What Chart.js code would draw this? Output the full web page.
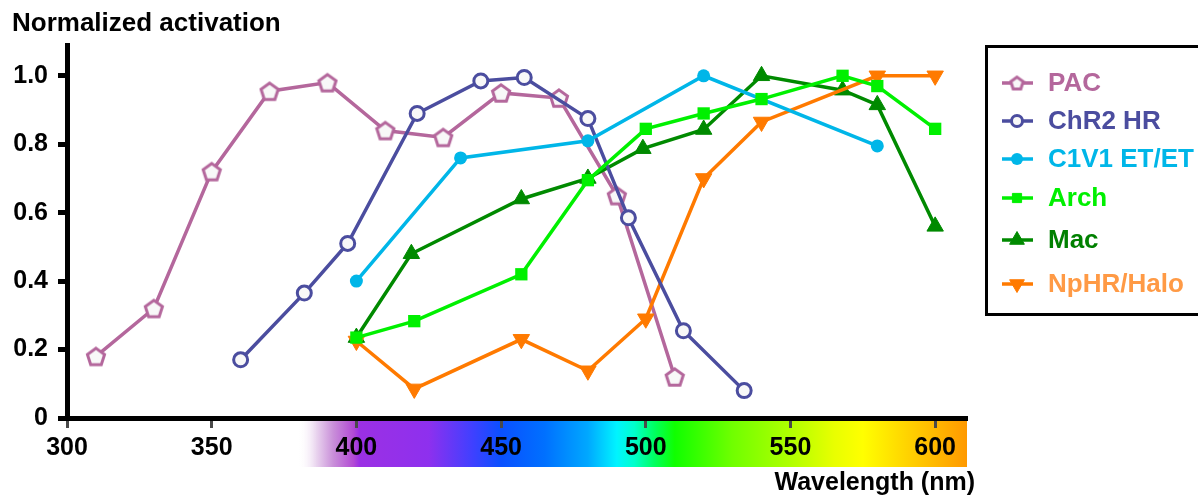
<!DOCTYPE html>
<html><head><meta charset="utf-8">
<style>html,body{margin:0;padding:0;background:#fff;overflow:hidden}</style>
<script src="https://cdn.jsdelivr.net/npm/chart.js@4/dist/chart.umd.min.js"></script>
</head><body>
<canvas id="c" width="1198" height="497" style="display:block;width:1198px;height:497px"></canvas>
<script>
// ---------- data ----------
const seriesNames = ['PAC', 'ChR2 HR', 'C1V1 ET/ET', 'Arch', 'Mac', 'NpHR/Halo'];
const pacWl   = [310, 330, 350, 370, 390, 410, 430, 450, 470, 490, 510];
const pacAct  = [0.18, 0.32, 0.72, 0.955, 0.98, 0.84, 0.82, 0.95, 0.935, 0.65, 0.12];
const chr2Wl  = [360, 382, 397, 421, 443, 458, 480, 494, 513, 534];
const chr2Act = [0.17, 0.365, 0.51, 0.89, 0.985, 0.995, 0.875, 0.585, 0.255, 0.08];
const c1v1Wl  = [400, 436, 480, 520, 580];
const c1v1Act = [0.40, 0.76, 0.81, 1.0, 0.795];
const archWl  = [400, 420, 457, 480, 500, 520, 540, 568, 580, 600];
const archAct = [0.235, 0.283, 0.42, 0.695, 0.845, 0.89, 0.932, 1.0, 0.97, 0.845];
const macWl   = [400, 419, 457, 480, 499, 520, 540, 568, 580, 600];
const macAct  = [0.235, 0.48, 0.64, 0.70, 0.787, 0.843, 1.0, 0.958, 0.915, 0.56];
const nphrWl  = [400, 420, 457, 480, 500, 520, 540, 580, 600];
const nphrAct = [0.225, 0.085, 0.23, 0.138, 0.29, 0.70, 0.865, 1.0, 1.0];
const xTickValues = [300, 350, 400, 450, 500, 550, 600];
const yTickValues = [0, 0.2, 0.4, 0.6, 0.8, 1.0];
const yTickLabels = ['0', '0.2', '0.4', '0.6', '0.8', '1.0'];
const xTitle = 'Wavelength (nm)';
const yTitle = 'Normalized activation';

// ---------- styles ----------
const FONT = "'Liberation Sans', Arial, sans-serif";
const COL = {
  pac: '#b4679c', chr2: '#4b4d9f', c1v1: '#00b6e8', arch: '#00f000', mac: '#008a00', nphr: '#ff7a00'
};
const LEGEND_TEXT = ['#b4679c', '#4b4d9f', '#00b6e8', '#00f000', '#008000', '#ff9a45'];
const SPECTRUM = [
  [380, 'rgba(255,255,255,0)'], [386, '#ead6ef'], [392, '#c98fd9'], [399, '#b24ad4'], [401, '#9b30e4'],
  [425, '#8e30ee'], [440, '#4040ff'], [450, '#0a50ff'], [465, '#0070ff'], [480, '#00a8ff'],
  [490, '#00f4ff'], [496, '#00ffcc'], [503, '#00ff60'], [510, '#10ff00'], [530, '#70ff00'],
  [550, '#b0ff00'], [565, '#e8ff00'], [575, '#ffff00'], [590, '#ffd400'], [605, '#ffaa00'], [611, '#ff9900']
];

function pentagon(size, stroke, lw) {
  const c = document.createElement('canvas');
  c.width = c.height = size;
  const g = c.getContext('2d');
  const r = size / 2 - lw / 2 - 0.5;
  const cx = size / 2, cy = size / 2 + r * 0.1;
  g.beginPath();
  for (let i = 0; i < 5; i++) {
    const a = -Math.PI / 2 + i * 2 * Math.PI / 5;
    const px = cx + r * Math.cos(a), py = cy + r * Math.sin(a);
    i ? g.lineTo(px, py) : g.moveTo(px, py);
  }
  g.closePath();
  g.fillStyle = '#f8f8f8'; g.fill();
  g.lineWidth = lw; g.strokeStyle = stroke; g.lineJoin = 'miter'; g.stroke();
  return c;
}
const pentBig = pentagon(22, COL.pac, 3);
const pentSmall = pentagon(17, COL.pac, 3);

function pts(xs, ys) { return xs.map((x, i) => ({ x: x, y: ys[i] })); }

const datasets = [
  { label: seriesNames[0], data: pts(pacWl, pacAct), borderColor: COL.pac, backgroundColor: COL.pac,
    pointStyle: pentBig, pointRadius: 10, order: 6, legendStyle: { pointStyle: pentSmall, radius: 8 } },
  { label: seriesNames[1], data: pts(chr2Wl, chr2Act), borderColor: COL.chr2, backgroundColor: '#f8f8f8',
    pointStyle: 'circle', pointRadius: 7, pointBorderWidth: 3, order: 3, legendStyle: { pointStyle: 'circle', radius: 5.5, fill: '#f8f8f8', borderWidth: 3 } },
  { label: seriesNames[2], data: pts(c1v1Wl, c1v1Act), borderColor: COL.c1v1, backgroundColor: COL.c1v1,
    pointStyle: 'circle', pointRadius: 6.5, pointBorderWidth: 0, order: 2, legendStyle: { pointStyle: 'circle', radius: 6 } },
  { label: seriesNames[3], data: pts(archWl, archAct), borderColor: COL.arch, backgroundColor: COL.arch,
    pointStyle: 'rect', pointRadius: 8.7, pointBorderWidth: 0, order: 1, legendStyle: { pointStyle: 'rect', radius: 6.5 } },
  { label: seriesNames[4], data: pts(macWl, macAct), borderColor: COL.mac, backgroundColor: COL.mac,
    pointStyle: 'triangle', pointRadius: 9.5, pointBorderWidth: 1, order: 5, legendStyle: { pointStyle: 'triangle', radius: 8.5 } },
  { label: seriesNames[5], data: pts(nphrWl, nphrAct), borderColor: COL.nphr, backgroundColor: COL.nphr,
    pointStyle: 'triangle', pointRotation: 180, pointRadius: 9.5, pointBorderWidth: 1, order: 4, legendStyle: { pointStyle: 'triangle', rotation: 180, radius: 8.5 } }
];
datasets.forEach(d => { d.borderWidth = 3.5; d.tension = 0; d.fill = false; d.pointHoverRadius = d.pointRadius; });

const decor = {
  id: 'decor',
  beforeDraw(chart) {
    const ctx = chart.ctx, xs = chart.scales.x, ca = chart.chartArea;
    const x0 = xs.getPixelForValue(SPECTRUM[0][0]);
    const x1 = xs.getPixelForValue(SPECTRUM[SPECTRUM.length - 1][0]);
    const grad = ctx.createLinearGradient(x0, 0, x1, 0);
    SPECTRUM.forEach(s => grad.addColorStop((xs.getPixelForValue(s[0]) - x0) / (x1 - x0), s[1]));
    ctx.save();
    ctx.fillStyle = grad;
    ctx.fillRect(x0, ca.bottom + 3, x1 - x0, 46);
    ctx.restore();
  },
  afterDraw(chart) {
    const ctx = chart.ctx, ca = chart.chartArea;
    ctx.save();
    ctx.fillStyle = '#000';
    ctx.font = 'bold 26px ' + FONT;
    ctx.textBaseline = 'middle';
    ctx.textAlign = 'left';
    ctx.fillText(yTitle, 12, 24);
    ctx.font = 'bold 25px ' + FONT;
    ctx.textAlign = 'right';
    ctx.fillText(xTitle, ca.right + 8, 483);
    // legend box
    ctx.lineWidth = 3;
    ctx.strokeStyle = '#000';
    ctx.strokeRect(986.5, 46.5, 320, 268);
    const rows = [83, 121, 159, 198, 240, 284];
    chart.data.datasets.forEach((d, i) => {
      const y = rows[i];
      ctx.strokeStyle = d.borderColor;
      ctx.lineWidth = 3.5;
      ctx.beginPath(); ctx.moveTo(1002, y); ctx.lineTo(1033, y); ctx.stroke();
      const ls = d.legendStyle;
      ctx.fillStyle = ls.fill || d.borderColor;
      ctx.strokeStyle = d.borderColor;
      ctx.lineWidth = ls.borderWidth || 1;
      Chart.helpers.drawPoint(ctx, { pointStyle: ls.pointStyle, rotation: ls.rotation || 0, radius: ls.radius, borderWidth: ls.borderWidth || (typeof ls.pointStyle === 'string' && ls.pointStyle !== 'circle' ? 1 : 0) }, 1017, y);
      ctx.fillStyle = LEGEND_TEXT[i];
      ctx.font = 'bold 26px ' + FONT;
      ctx.textAlign = 'left';
      ctx.textBaseline = 'middle';
      ctx.fillText(d.label, 1048, y + 1);
    });
    ctx.restore();
  }
};

new Chart(document.getElementById('c'), {
  type: 'line',
  data: { datasets: datasets },
  options: {
    responsive: false,
    devicePixelRatio: 1,
    animation: false,
    layout: { padding: { top: 45, right: 231, bottom: 0, left: 0 } },
    plugins: { legend: { display: false }, tooltip: { enabled: false } },
    scales: {
      x: {
        type: 'linear', position: 'bottom', min: 300, max: 611,
        afterFit(s) { s.height = 79; },
        afterBuildTicks(s) { s.ticks = xTickValues.map(v => ({ value: v })); },
        border: { display: true, color: '#000', width: 5 },
        grid: { display: true, drawOnChartArea: false, drawTicks: true, tickLength: 10, tickWidth: 3, tickColor: '#4a4a4a' },
        ticks: { color: '#000', font: { family: FONT, size: 25, weight: 'bold' }, padding: 5, maxRotation: 0, autoSkip: false, includeBounds: false }
      },
      y: {
        type: 'linear', position: 'left', min: 0, max: 1.09,
        afterFit(s) { s.width = 67; },
        afterBuildTicks(s) { s.ticks = yTickValues.map(v => ({ value: v })); },
        border: { display: true, color: '#000', width: 5 },
        grid: { display: true, drawOnChartArea: false, drawTicks: true, tickLength: 9, tickWidth: 5, tickColor: '#000' },
        ticks: { color: '#000', font: { family: FONT, size: 25, weight: 'bold' }, padding: 10, includeBounds: false,
          callback: (v, i) => yTickLabels[i] }
      }
    }
  },
  plugins: [decor]
});
</script>
</body></html>
